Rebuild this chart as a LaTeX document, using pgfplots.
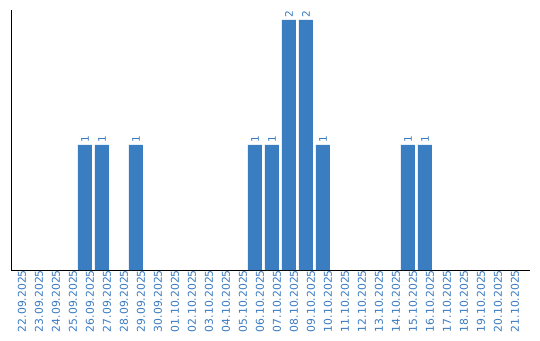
\documentclass[border=0pt]{standalone}
\usepackage{pgfplots}
\pgfplotsset{compat=1.18}
\usepackage{fontspec}
\setmainfont{DejaVu Sans}
\definecolor{barblue}{HTML}{3B7DC1}
\definecolor{txtblue}{HTML}{3A7BC0}
\begin{document}
\begin{tikzpicture}
\path[use as bounding box] (-11pt,-70pt) rectangle (529pt,270pt);
\begin{axis}[
  at={(0pt,0pt)}, anchor=south west,
  scale only axis,
  width=519pt, height=260pt,
  xmin=-0.35, xmax=30.18,
  ymin=0, ymax=2.08,
  axis lines*=left,
  axis line style={black, line width=1pt},
  ytick=\empty,
  xtick={0,...,29},
  xticklabels={22.09.2025,23.09.2025,24.09.2025,25.09.2025,26.09.2025,27.09.2025,28.09.2025,29.09.2025,30.09.2025,01.10.2025,02.10.2025,03.10.2025,04.10.2025,05.10.2025,06.10.2025,07.10.2025,08.10.2025,09.10.2025,10.10.2025,11.10.2025,12.10.2025,13.10.2025,14.10.2025,15.10.2025,16.10.2025,17.10.2025,18.10.2025,19.10.2025,20.10.2025,21.10.2025},
  major tick length=0pt,
  xticklabel style={rotate=90, anchor=east, inner sep=0pt, yshift=-5pt, font=\fontsize{10.8}{12}\selectfont, text=txtblue},
  ybar, bar width=14pt,
  clip=false,
  point meta=explicit symbolic,
  nodes near coords,
  every node near coord/.style={rotate=90, anchor=west, inner xsep=2pt, inner ysep=0pt, font=\fontsize{10.5}{12}\selectfont, text=txtblue, scale=1},
]
\addplot[fill=barblue, draw=none] coordinates {
 (4,1) [1] (5,1) [1] (7,1) [1] (14,1) [1] (15,1) [1] (16,2) [2] (17,2) [2] (18,1) [1] (23,1) [1] (24,1) [1]
};
\end{axis}
\end{tikzpicture}
\end{document}
